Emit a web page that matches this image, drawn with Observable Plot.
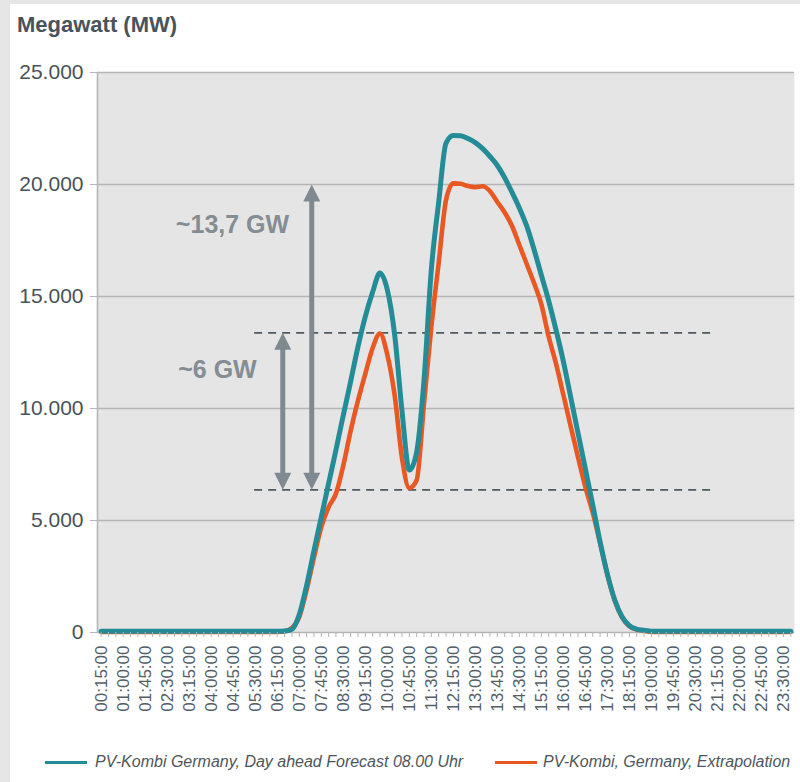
<!DOCTYPE html>
<html><head><meta charset="utf-8">
<script src="https://cdn.jsdelivr.net/npm/d3@7"></script>
<script src="https://cdn.jsdelivr.net/npm/@observablehq/plot@0.6"></script>
<style>
html,body{margin:0;padding:0;background:#e6e6e6;}
body{width:800px;height:782px;overflow:hidden;position:relative;font-family:"Liberation Sans",Arial,sans-serif;}
#card{position:absolute;left:10px;top:4px;width:790px;height:778px;background:#fff;}
#title{position:absolute;left:7px;top:8px;font-size:22px;font-weight:bold;color:#48535b;line-height:26px;}
#chart{position:absolute;left:0;top:41px;}
#legend{position:absolute;top:744px;left:0;width:790px;height:28px;font-size:16px;font-style:italic;color:#4d565c;}
.item{position:absolute;top:0;display:flex;align-items:center;height:28px;white-space:nowrap;}
.sw{width:42px;height:3px;margin-right:8px;}
</style></head>
<body>
<div id="card">
  <div id="title">Megawatt (MW)</div>
  <div id="chart"></div>
  <div id="legend">
    <div class="item" style="left:35px"><span class="sw" style="background:#248c97"></span>PV-Kombi Germany, Day ahead Forecast 08.00 Uhr</div>
    <div class="item" style="left:485px"><span class="sw" style="background:#e95822;margin-right:6px"></span>PV-Kombi, Germany, Extrapolation</div>
  </div>
</div>
<script>
const times = [
"00:15:00","00:30:00","00:45:00","01:00:00","01:15:00","01:30:00","01:45:00","02:00:00",
"02:15:00","02:30:00","02:45:00","03:00:00","03:15:00","03:30:00","03:45:00","04:00:00",
"04:15:00","04:30:00","04:45:00","05:00:00","05:15:00","05:30:00","05:45:00","06:00:00",
"06:15:00","06:30:00","06:45:00","07:00:00","07:15:00","07:30:00","07:45:00","08:00:00",
"08:15:00","08:30:00","08:45:00","09:00:00","09:15:00","09:30:00","09:45:00","10:00:00",
"10:15:00","10:30:00","10:45:00","11:00:00","11:15:00","11:30:00","11:45:00","12:00:00",
"12:15:00","12:30:00","12:45:00","13:00:00","13:15:00","13:30:00","13:45:00","14:00:00",
"14:15:00","14:30:00","14:45:00","15:00:00","15:15:00","15:30:00","15:45:00","16:00:00",
"16:15:00","16:30:00","16:45:00","17:00:00","17:15:00","17:30:00","17:45:00","18:00:00",
"18:15:00","18:30:00","18:45:00","19:00:00","19:15:00","19:30:00","19:45:00","20:00:00",
"20:15:00","20:30:00","20:45:00","21:00:00","21:15:00","21:30:00","21:45:00","22:00:00",
"22:15:00","22:30:00","22:45:00","23:00:00","23:15:00","23:30:00","23:45:00"];

// Day ahead forecast 08.00 Uhr (MW)
const forecast = [
60,60,60,60,60,60,60,60,60,60,60,60,60,60,60,60,60,60,60,60,60,60,60,60,60,
70,150,800,2100,3650,5150,6650,8150,9700,11200,12750,14100,15200,16050,15300,13300,
9900,7250,8050,11250,16200,19200,21850,22190,22180,22050,21870,21600,21250,20850,
20300,19650,18950,18150,17100,15950,14800,13500,12100,10500,8900,7300,5700,4050,
2600,1450,700,300,150,100,
60,60,60,60,60,60,60,60,60,60,60,60,60,60,60,60,60,60,60,60];

// Extrapolation (MW)
const extrapolation = [
30,30,30,30,30,30,30,30,30,30,30,30,30,30,30,30,30,30,30,30,30,30,30,30,30,
50,200,700,1900,3350,4700,5600,6200,7450,9000,10350,11550,12700,13350,12400,10600,
7800,6450,6800,10200,13650,16500,19300,20050,20030,19930,19880,19920,19700,19220,
18750,18150,17300,16450,15600,14650,13200,12000,10600,9200,7810,6490,5350,4000,
2580,1430,680,280,130,80,
30,30,30,30,30,30,30,30,30,30,30,30,30,30,30,30,30,30,30,30];

const yTicks = [0, 5000, 10000, 15000, 20000, 25000];
const yLabels = ["0", "5.000", "10.000", "15.000", "20.000", "25.000"];
const xLabelEvery = 3;

// annotations
const levels = [13380, 6370];
const levelSpan = [20.85, 83.4];
const arrows = [
  {i: 28.7, lo: 6370, hi: 20000},
  {i: 24.75, lo: 6370, hi: 13380}
];
const notes = [
  {i: 17.9, v: 18170, t: "~13,7 GW"},
  {i: 15.85, v: 11700, t: "~6 GW"}
];

const idx = times.map((t, i) => i);
const labelIdx = idx.filter(i => i % xLabelEvery === 0);
const fc = forecast.map((v, i) => ({i, v}));
const ex = extrapolation.map((v, i) => ({i, v}));
const dashRows = levels.map(v => ({x1: levelSpan[0], x2: levelSpan[1], v}));

const headUp = {draw(c){c.moveTo(0,0);c.lineTo(8.5,17);c.lineTo(-8.5,17);c.closePath();}};
const headDown = {draw(c){c.moveTo(0,0);c.lineTo(8.5,-17);c.lineTo(-8.5,-17);c.closePath();}};

const grid = "#b5b5b5";
const arrowCol = "#7f8a90";

const chart = Plot.plot({
  width: 790,
  height: 680,
  marginLeft: 87,
  marginRight: 6,
  marginTop: 27,
  marginBottom: 93,
  style: {fontFamily: "'Liberation Sans', Arial, sans-serif", background: "transparent"},
  x: {domain: [-0.5, times.length - 0.5]},
  y: {domain: [0, 25000]},
  marks: [
    Plot.frame({fill: "#e5e5e5", stroke: null}),
    Plot.ruleY(yTicks, {stroke: grid, strokeWidth: 1.6}),
    Plot.ruleX([-0.5], {stroke: grid, strokeWidth: 1.6}),
    Plot.link(dashRows, {x1: "x1", x2: "x2", y1: "v", y2: "v", stroke: "#4f5a61", strokeWidth: 1.8, strokeDasharray: "8,6"}),
    Plot.ruleX(arrows, {x: "i", y1: "hi", y2: "lo", stroke: arrowCol, strokeWidth: 5, insetTop: 14, insetBottom: 14}),
    Plot.dot(arrows, {x: "i", y: "hi", symbol: headUp, fill: arrowCol, stroke: null}),
    Plot.dot(arrows, {x: "i", y: "lo", symbol: headDown, fill: arrowCol, stroke: null}),
    Plot.text(notes, {x: "i", y: "v", text: "t", fontSize: 25, fontWeight: "bold", fill: "#838d93"}),
    Plot.line(ex, {x: "i", y: "v", stroke: "#e95822", strokeWidth: 4.6, curve: "monotone-x"}),
    Plot.line(fc, {x: "i", y: "v", stroke: "#248c97", strokeWidth: 5, curve: "monotone-x"}),
    Plot.axisY({ticks: yTicks, tickFormat: d => yLabels[yTicks.indexOf(d)], tickSize: 7, tickPadding: 7, fontSize: 21, stroke: grid, fill: "#47525a", label: null}),
    Plot.axisX({ticks: idx, tickFormat: () => "", tickSize: 5, stroke: grid, label: null}),
    Plot.axisX({ticks: labelIdx, tickFormat: i => times[i], tickRotate: -90, tickSize: 0, tickPadding: 13, fontSize: 17, fill: "#555e64", label: null})
  ]
});
document.getElementById("chart").appendChild(chart);
</script>
</body></html>
